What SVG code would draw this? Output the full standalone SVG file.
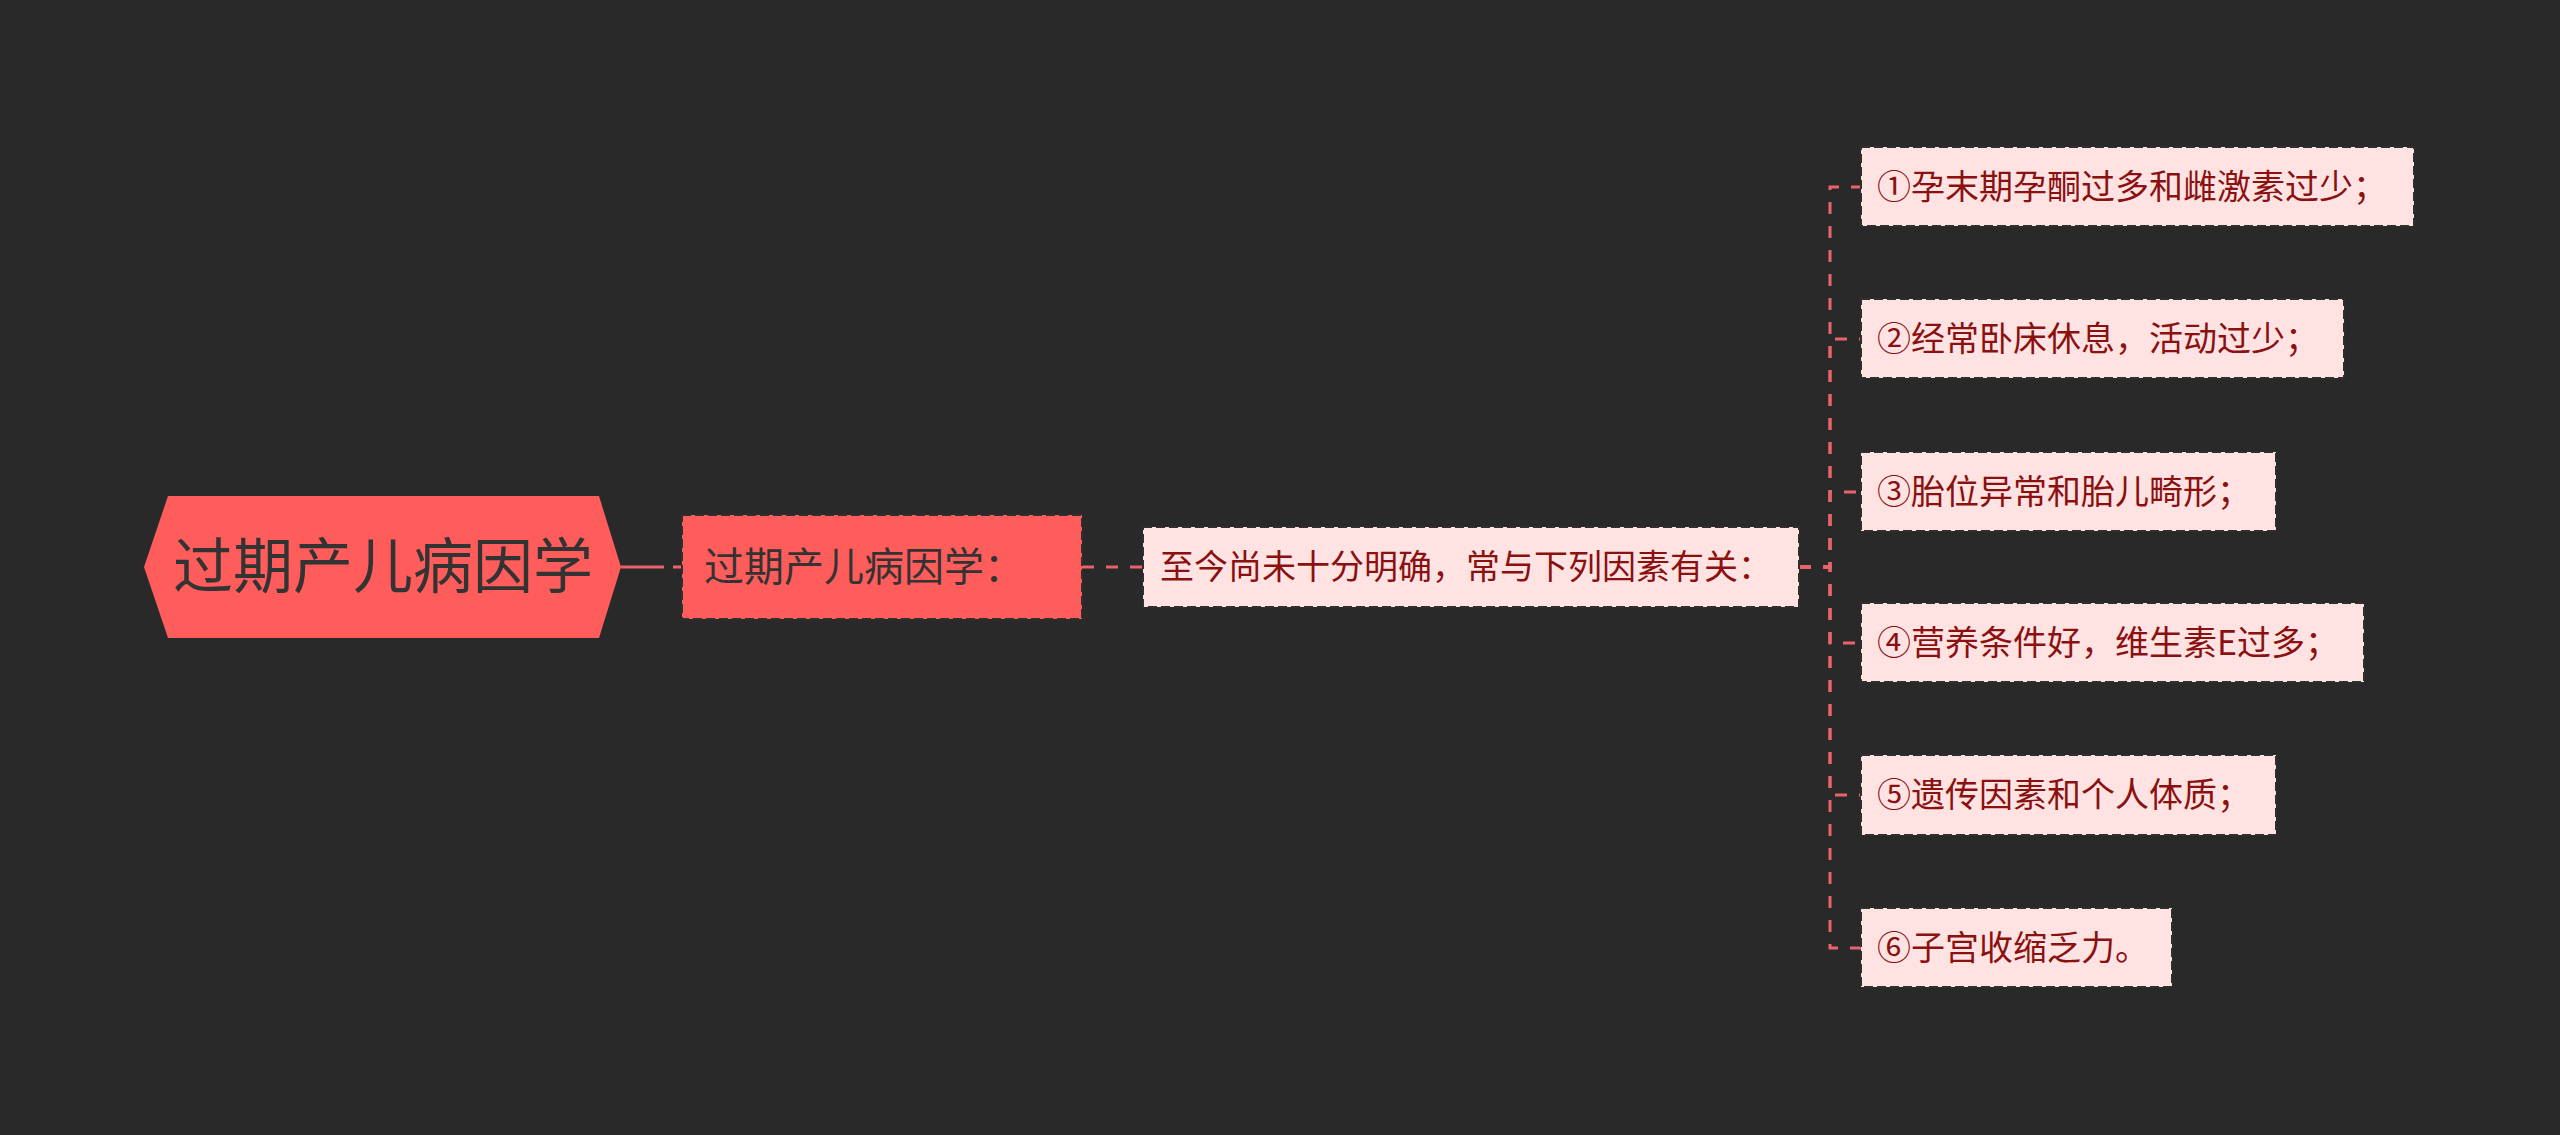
<svg xmlns="http://www.w3.org/2000/svg" width="2560" height="1135" viewBox="0 0 2560 1135">
<style>
.bg{fill:#292929}
.conn{fill:none;stroke:#E8646A;stroke-width:3;stroke-dasharray:12 12}
.solid{fill:none;stroke:#E8646A;stroke-width:3}
.leaf rect{fill:#FFE3E3;stroke:#2f2f2f;stroke-width:2;stroke-dasharray:9 4}
.leaf text{font-family:"Noto Sans CJK SC","Microsoft YaHei",sans-serif;font-size:34px;fill:#8B1010}
.mid rect{fill:#FF5C5C;stroke:#2f2f2f;stroke-width:2;stroke-dasharray:9 4}
.mid text{font-family:"Noto Sans CJK SC",sans-serif;font-size:40px;fill:#333333}
.root text{font-family:"Noto Sans CJK SC",sans-serif;font-size:60px;fill:#333333}
</style>
<rect class="bg" x="0" y="0" width="2560" height="1135"/>
<g id="connectors">
<path class="solid" d="M621 567 H664"/>
<path class="conn" d="M673 567 H682"/>
<path class="conn" d="M1082 567 H1143"/>
<path class="conn" d="M1799 567 H1830 V187 H1861"/>
<path class="conn" d="M1799 567 H1830 V339 H1861"/>
<path class="conn" d="M1799 567 H1830 V492 H1861"/>
<path class="conn" d="M1799 567 H1830 V643 H1861"/>
<path class="conn" d="M1799 567 H1830 V795 H1861"/>
<path class="conn" d="M1799 567 H1830 V948 H1861"/>
</g>
<g id="root" class="root">
<polygon points="144,567 168,496 599,496 621,567 599,638 168,638" fill="#FF5C5C"/>
<text x="383" y="588" text-anchor="middle">过期产儿病因学</text>
</g>
<g id="n1" class="mid">
<rect x="682" y="515" width="400" height="104"/>
<text x="704" y="581">过期产儿病因学：</text>
</g>
<g id="n2" class="leaf">
<rect x="1143" y="527" width="656" height="80"/>
<text x="1160" y="579">至今尚未十分明确，常与下列因素有关：</text>
</g>
<g id="l1" class="leaf">
<rect x="1861" y="147" width="553" height="79"/>
<text x="1877" y="199">①孕末期孕酮过多和雌激素过少；</text>
</g>
<g id="l2" class="leaf">
<rect x="1861" y="299" width="483" height="79"/>
<text x="1877" y="351">②经常卧床休息，活动过少；</text>
</g>
<g id="l3" class="leaf">
<rect x="1861" y="452" width="415" height="79"/>
<text x="1877" y="504">③胎位异常和胎儿畸形；</text>
</g>
<g id="l4" class="leaf">
<rect x="1861" y="603" width="503" height="79"/>
<text x="1877" y="655">④营养条件好，维生素E过多；</text>
</g>
<g id="l5" class="leaf">
<rect x="1861" y="755" width="415" height="80"/>
<text x="1877" y="807">⑤遗传因素和个人体质；</text>
</g>
<g id="l6" class="leaf">
<rect x="1861" y="908" width="311" height="79"/>
<text x="1877" y="960">⑥子宫收缩乏力。</text>
</g>
</svg>
